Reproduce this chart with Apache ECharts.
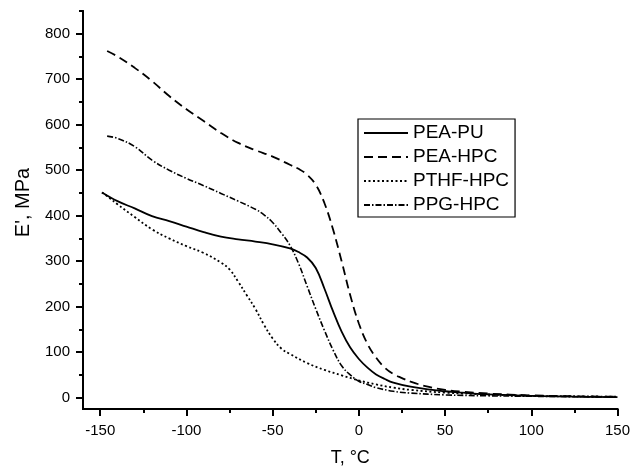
<!DOCTYPE html>
<html>
<head>
<meta charset="utf-8">
<script src="https://cdn.jsdelivr.net/npm/echarts@6/dist/echarts.min.js"></script>
<style>
  html, body { margin: 0; padding: 0; background: #fff; }
  #chart { width: 633px; height: 473px; }
</style>
</head>
<body>
<div id="chart"></div>
<script>
// E' vs T data
var peaPuT = [-149, -140, -130, -120, -110, -100, -90, -80, -70, -60, -50, -40, -35, -30, -25, -20, -15, -10, -5, 0, 5, 10, 15, 20, 30, 40, 50, 60, 75, 100, 125, 150];
var peaPuE = [451, 432, 416, 399, 388, 376, 364, 354, 348, 343, 337, 328, 320, 308, 285, 240, 190, 145, 110, 85, 66, 51, 41, 33, 24, 18, 14, 11, 7, 4, 2, 1];

var peaHpcT = [-146, -140, -130, -120, -110, -100, -90, -80, -70, -60, -50, -40, -35, -30, -25, -20, -15, -10, -5, 0, 5, 10, 15, 20, 25, 30, 40, 50, 60, 75, 100, 125, 150];
var peaHpcE = [762, 750, 725, 696, 663, 634, 608, 582, 560, 544, 530, 512, 503, 490, 468, 428, 370, 300, 225, 163, 118, 88, 66, 52, 43, 35, 24, 17, 13, 9, 5, 3, 2];

var pthfHpcT = [-149, -145, -140, -130, -120, -110, -100, -90, -80, -75, -70, -65, -60, -55, -50, -45, -40, -30, -20, -10, 0, 10, 20, 30, 50, 75, 100, 125, 150];
var pthfHpcE = [451, 440, 425, 397, 370, 350, 333, 318, 297, 282, 255, 225, 195, 160, 130, 108, 96, 76, 61, 49, 38, 29, 22, 17, 11, 7, 4, 3, 2];

var ppgHpcT = [-146, -140, -130, -120, -110, -100, -90, -80, -70, -60, -55, -50, -45, -40, -35, -30, -25, -20, -15, -10, -5, 0, 5, 10, 20, 30, 50, 75, 100, 125, 150];
var ppgHpcE = [575, 570, 552, 522, 500, 482, 466, 449, 432, 414, 402, 385, 362, 335, 295, 245, 195, 148, 105, 70, 50, 36, 29, 22, 14, 10, 6, 4, 3, 2, 1];

var xMajor = [-150, -100, -50, 0, 50, 100, 150];
var xMinor = [-125, -75, -25, 25, 75, 125];
var yMajor = [0, 100, 200, 300, 400, 500, 600, 700, 800];
var yMinor = [50, 150, 250, 350, 450, 550, 650, 750, 850];

function pairs(xs, ys) {
  return xs.map(function (x, i) { return [x, ys[i]]; });
}

var dom = document.getElementById('chart');
var myChart = echarts.init(dom, null, { renderer: 'canvas' });

var font = '"Liberation Sans", Arial, sans-serif';
var axisLineStyle = { color: '#000', width: 2 };

function xAx(ticks, len, labels) {
  return {
    type: 'value', min: -160, max: 150, gridIndex: 0, position: 'bottom',
    name: labels ? 'T, °C' : '',
    nameLocation: 'middle', nameGap: 40,
    nameTextStyle: { fontFamily: font, fontSize: 18, color: '#000' },
    axisLine: { show: true, onZero: false, lineStyle: axisLineStyle },
    axisTick: { show: true, inside: false, length: len, customValues: ticks, lineStyle: { color: '#000', width: 2 } },
    axisLabel: { show: labels, customValues: ticks, margin: 14, fontFamily: font, fontSize: 15, color: '#000' },
    splitLine: { show: false }
  };
}

function yAx(ticks, len, labels) {
  return {
    type: 'value', min: -25, max: 850, gridIndex: 0, position: 'left',
    name: labels ? "E', MPa" : '',
    nameLocation: 'middle', nameGap: 50,
    nameTextStyle: { fontFamily: font, fontSize: 20, color: '#000', padding: [0, 0, 0, 15] },
    axisLine: { show: true, onZero: false, lineStyle: axisLineStyle },
    axisTick: { show: true, inside: false, length: len, customValues: ticks, lineStyle: { color: '#000', width: 2 } },
    axisLabel: { show: labels, customValues: ticks, margin: 13, fontFamily: font, fontSize: 15, color: '#000' },
    splitLine: { show: false }
  };
}

function line(name, xs, ys, type, width) {
  return {
    name: name, type: 'line', xAxisIndex: 0, yAxisIndex: 0,
    data: pairs(xs, ys),
    showSymbol: false, symbol: 'none',
    smooth: 0.4,
    lineStyle: { color: '#000', width: width, type: type },
    itemStyle: { color: '#000' },
    animation: false
  };
}

var option = {
  backgroundColor: '#fff',
  animation: false,
  grid: { left: 83, right: 13, top: 11, bottom: 64, containLabel: false },
  legend: {
    orient: 'vertical', left: 358, top: 119,
    itemWidth: 44, itemHeight: 14, itemGap: 4,
    padding: [4, 6, 2, 5],
    borderColor: '#000', borderWidth: 1.2,
    itemStyle: { color: 'rgba(0,0,0,0)', borderColor: 'rgba(0,0,0,0)', borderWidth: 0, opacity: 0 },
    textStyle: { fontFamily: font, fontSize: 19, color: '#000', lineHeight: 20 },
    data: ['PEA-PU', 'PEA-HPC', 'PTHF-HPC', 'PPG-HPC']
  },
  xAxis: [xAx(xMajor, 7, true), xAx(xMinor, 4, false)],
  yAxis: [yAx(yMajor, 7, true), yAx(yMinor, 4, false)],
  series: [
    line('PEA-PU', peaPuT, peaPuE, 'solid', 1.8),
    line('PEA-HPC', peaHpcT, peaHpcE, [9, 5], 1.8),
    line('PTHF-HPC', pthfHpcT, pthfHpcE, [2, 2.5], 1.8),
    line('PPG-HPC', ppgHpcT, ppgHpcE, [6, 2, 1.5, 2], 1.6)
  ]
};

if (option && typeof option === 'object') {
  myChart.setOption(option);
}

window.addEventListener('resize', myChart.resize);
</script>
</body>
</html>
